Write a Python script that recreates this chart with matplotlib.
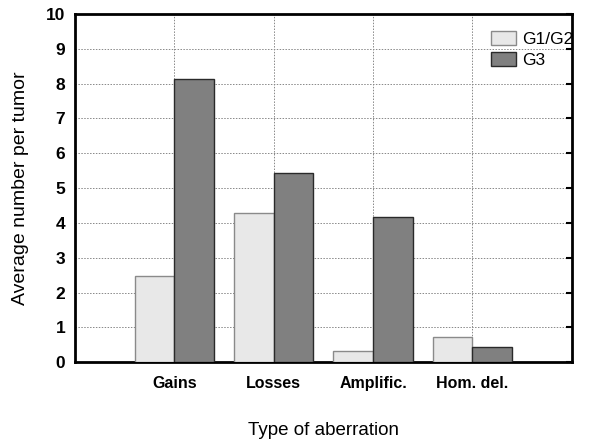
import numpy as np
import matplotlib
matplotlib.use("Agg")
import matplotlib.pyplot as plt

plt.rcParams['font.family'] = ['Liberation Sans', 'DejaVu Sans']

categories = ['Gains', 'Losses', 'Amplific.', 'Hom. del.']
g12_values = [2.47, 4.28, 0.33, 0.73]
g3_values = [8.13, 5.44, 4.18, 0.43]

fig = plt.figure(figsize=(6, 4.4), dpi=100)
ax = fig.add_axes([0.125, 0.177, 0.828, 0.791])

x = np.arange(1, len(categories) + 1)
w = 0.4
ax.bar(x - w / 2, g12_values, w, color='#e8e8e8', edgecolor='#8a8a8a',
       linewidth=1, label='G1/G2', zorder=3)
ax.bar(x + w / 2, g3_values, w, color='#808080', edgecolor='#2a2a2a',
       linewidth=1, label='G3', zorder=3)

ax.set_xlim(0, 5)
ax.set_ylim(0, 10)
ax.set_yticks(range(0, 11))
ax.set_xticks(x)
ax.set_xticklabels(categories, fontsize=11.5, fontweight='bold')
ax.tick_params(axis='y', labelsize=12.5, length=0, pad=7)
for lab in ax.get_yticklabels():
    lab.set_fontweight('bold')
ax.tick_params(axis='x', length=0, pad=10)

# inward ticks on the right spine
ax2 = ax.twinx()
ax2.set_ylim(0, 10)
ax2.set_yticks(range(0, 11))
ax2.tick_params(axis='y', direction='in', length=4, width=1.5, labelright=False)
for s in ax2.spines.values():
    s.set_visible(False)

ax.grid(True, color='#888888', linestyle=(0, (1.5, 1.5)), linewidth=0.7, zorder=0)
for s in ax.spines.values():
    s.set_linewidth(2)
    s.set_color('black')

ax.set_xlabel('Type of aberration', fontsize=13.5, labelpad=22)
ax.set_ylabel('Average number per tumor', fontsize=14, labelpad=12)

ax.legend(loc='upper left', bbox_to_anchor=(0.837, 0.952), frameon=False,
          fontsize=12.5, handlelength=1.45, handleheight=0.85, borderpad=0,
          borderaxespad=0, labelspacing=0.3, handletextpad=0.35)

fig.savefig('out.png', dpi=100)
